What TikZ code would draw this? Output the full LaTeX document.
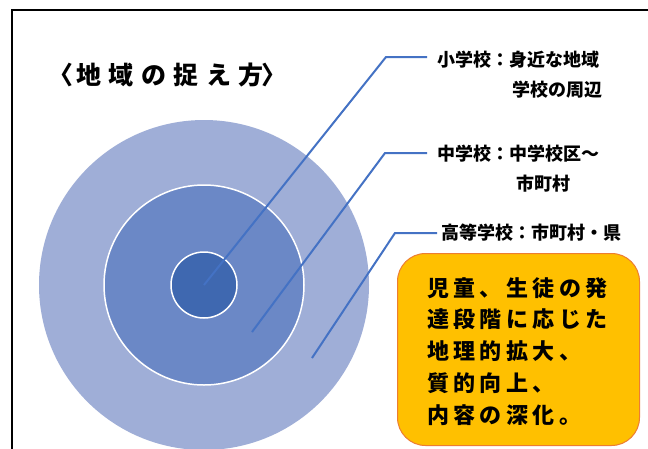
\documentclass[tikz,border=0pt]{standalone}
\usepackage{fontspec}
\newfontfamily\jp{Noto Sans CJK JP}
\newfontfamily\jpbox{Noto Sans CJK JP}[LetterSpace=20]
\newfontfamily\jptitle{Noto Sans CJK JP}[LetterSpace=30]
\definecolor{ringout}{HTML}{9FAED7}
\definecolor{ringmid}{HTML}{6B88C6}
\definecolor{ringin}{HTML}{3F68B0}
\definecolor{conn}{HTML}{4472C4}
\definecolor{boxfill}{HTML}{FFC000}
\definecolor{boxedge}{HTML}{ED7D31}
\tikzset{
  ring/.style={circle,inner sep=0pt,line width=1.5pt},
  connline/.style={draw=conn,line width=2pt},
  lbl/.style={anchor=west,inner sep=0pt,font=\jp\bfseries\fontsize{18pt}{20pt}\selectfont},
  boxline/.style={anchor=base west,inner sep=0pt,font=\jpbox\bfseries\fontsize{22pt}{24pt}\selectfont},
  titlepart/.style={anchor=base west,inner sep=0pt,font=\jptitle\bfseries\fontsize{25pt}{27pt}\selectfont},
}
\begin{document}
\begin{tikzpicture}[x=1pt,y=-1pt]
\useasboundingbox (0,0) rectangle (648,448);
\fill[white] (0,0) rectangle (648,448);
\draw[line width=1.6pt] (12,470) -- (12,10) -- (680,10);
% rings
\node[ring,fill=ringout,minimum size=330pt] (outer) at (204,285) {};
\node[ring,fill=ringmid,draw=white,minimum size=200pt] (middle) at (204,285) {};
\node[ring,fill=ringin,draw=white,minimum size=66pt] (inner) at (204,285) {};
% title
\node[titlepart] (tl) at (48,84) {〈};
\node[titlepart] (title) at (76,84) {地域の捉え方};
\node[titlepart] (tr) at (261,84) {〉};
% labels
\node[lbl] (lab1) at (437,60) {小学校：身近な地域};
\node[lbl] (lab1b) at (512,90) {学校の周辺};
\node[lbl] (lab2) at (437,154) {中学校：中学校区〜};
\node[lbl] (lab2b) at (516,184) {市町村};
\node[lbl] (lab3) at (441,233) {高等学校：市町村・県};
% connectors
\coordinate (k1) at (386,57);
\coordinate (e1) at (427,57);
\coordinate (p2) at (252,332);
\coordinate (k2) at (385,153);
\coordinate (e2) at (427,153);
\coordinate (p3) at (312,358);
\coordinate (k3) at (395,233);
\coordinate (e3) at (437,233);
\draw[connline] (inner.center) -- (k1) -- (e1);
\draw[connline] (p2) -- (k2) -- (e2);
\draw[connline] (p3) -- (k3) -- (e3);
% note box
\node[draw=boxedge,line width=1pt,fill=boxfill,rounded corners=28pt,minimum width=242pt,minimum height=192pt,anchor=north west] (box) at (397,253) {};
\node[boxline] (bt1) at (427,296) {児童、生徒の発};
\node[boxline] (bt2) at (427,327.75) {達段階に応じた};
\node[boxline] (bt3) at (427,359.5) {地理的拡大、};
\node[boxline] (bt4) at (427,391.25) {質的向上、};
\node[boxline] (bt5) at (427,423) {内容の深化。};
\end{tikzpicture}
\end{document}
